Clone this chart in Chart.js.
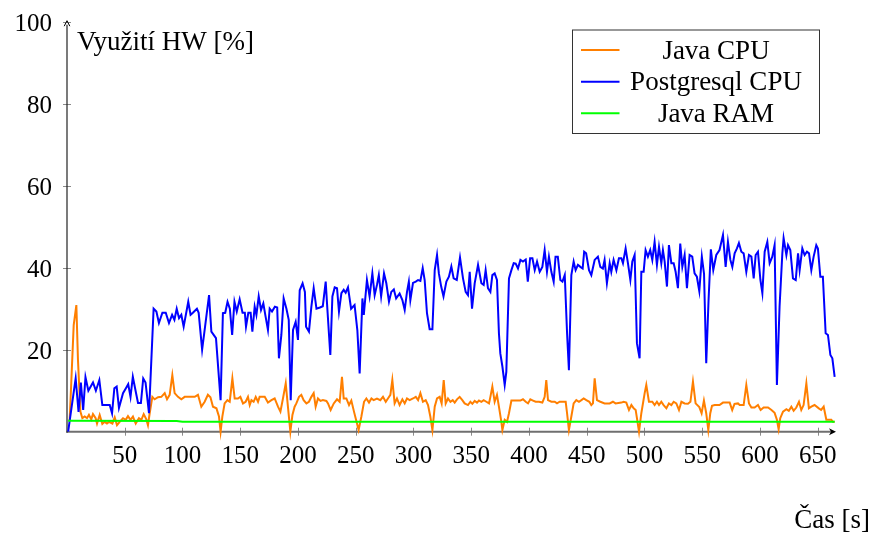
<!DOCTYPE html>
<html>
<head>
<meta charset="utf-8">
<script src="https://cdn.jsdelivr.net/npm/chart.js@4/dist/chart.umd.min.js"></script>
<style>
html,body{margin:0;padding:0;background:#fff;}
canvas{display:block;}
</style>
</head>
<body>
<canvas id="c" width="875" height="538"></canvas>
<script>
// ---- data ----
const seriesLabels = ["Java CPU", "Postgresql CPU", "Java RAM"];
const xTickValues = [50,100,150,200,250,300,350,400,450,500,550,600,650];
const yTickValues = [20,40,60,80,100];
const xAxisTitle = "Čas [s]";
const yAxisTitle = "Využití HW [%]";

const javaCpuTime = [2.3,5.8,8.1,9.5,11.6,13.3,15.3,17.3,19,21,22.5,24.8,26,28.3,30.6,32.6,34.6,36.4,39.3,41.3,43.3,45.6,48.5,50.8,52.8,55,57.1,59.5,62.3,64.4,66.4,68.7,70.1,71.6,73.9,75.9,78.8,81.7,84.6,86.6,88.9,91.2,93.2,96.1,99,101.9,106.2,110.6,113.4,116.3,119.2,122,124.2,126.4,129.4,131.6,133,134.5,136.5,138.9,140.9,143.2,145.2,148,150.1,152.4,154.7,156.7,158.2,159.7,161.6,163.4,165.4,166.8,171.2,174,177,179.8,182.7,184.8,187,189.4,191.3,193.4,195.2,197.1,198.6,200.9,202.9,204.9,207.3,209.5,211.6,213.6,215.3,217.3,219.5,221.6,224.6,226,228.3,231,233.8,236.1,238.1,239.6,241.9,244.2,246.2,248.5,250.5,252.5,254.9,257.2,259.2,261.5,263.6,265.5,268.4,271.3,273.6,276,277.9,280,281.7,283.7,285.7,288,290.4,292.4,294.4,296.7,299.6,302,304,306,308.2,310.6,312.6,314.6,316.4,318.4,320.4,322.7,324.4,326.2,327.9,329.9,332,334,335.7,337.7,340,342.3,344.3,347.2,349.3,351,353,355,356.7,358.8,360.8,363.1,365.4,366.6,368.3,370.3,372.3,374,376.1,377,379,381,382.7,384.8,388.5,392.6,394.8,397.2,399.2,401.2,403.5,405.8,408.7,411.6,413.6,415,416.5,419.4,422.3,424.3,426.6,429.5,431.8,433,434.6,436.7,438.7,441,443.3,445.4,447.4,449.7,452.3,454,455.4,456.9,458.9,461.8,465.5,469.9,472.7,475,480,482,484.3,486.6,488.7,490.7,492.4,493.5,495.3,497.3,500.2,501.6,503.9,506.8,508.8,510.8,512.6,514.6,516.6,519,521.2,523.3,525.3,527.6,529.9,532,534.8,537.7,539.8,542,544.3,547.5,549.5,551.5,553.5,555.3,557,558.5,560.8,565,568,573.8,576,578,581,582.4,585.9,588.2,590.5,592.6,595.4,598.3,600.6,603.2,607,610,612.7,614.7,616.2,617.6,620,622.9,625,627.2,629.2,631.5,633.8,635.8,637.8,640.2,642.4,644.5,647.3,651,653,655.2,657.5,659.8,661.8,663.2,664.7];
const javaCpuValue = [2.8,26,30.9,17.5,4.9,3.3,3.7,3.3,4.1,3,4.3,3.3,2,4.1,1.9,2.4,2,2.4,2,3.5,1.6,2.4,3.3,2.9,3.8,2.9,3.7,2,3.3,2.9,4.3,3,1.6,4.5,8.5,7.9,8.4,8.5,9.4,7.9,9,13.8,9.4,8.5,7.9,8.5,8.5,8.5,9,6.1,7.3,9,8.4,6.1,5.7,3.7,0,3.7,6.9,7.7,7.3,13,8.1,8.1,8.5,6.9,7.3,8.5,6.5,7.7,7.3,8.5,7.3,8.5,8.5,7.1,7.7,8.1,6.1,4.9,8.1,11.8,6.1,0,4.1,6.1,6.9,8.5,9,7.7,6.9,7.3,8.5,9.4,6.1,8.1,7.5,7.7,7.5,6.9,5.3,6.9,7.9,7.3,13.4,8.1,8.1,6.5,7.6,4.9,2.7,0.4,3.7,7.3,8.1,7.1,8.1,7.7,8.1,7.7,8.5,7.3,8.1,9,12.6,6.9,8.1,6.5,7.9,6.9,8.1,7.7,8.1,8.5,7.7,9.4,7.3,7.7,6.5,3.7,0.4,6.1,8.1,8.5,6.9,12.6,6.9,8.1,7.3,7.7,7.1,7.9,8.5,7.7,6.9,6.5,7.3,6.8,7.5,7.1,7.6,7.3,7.7,7.3,6.9,8.5,11,7.3,9,6.1,2.4,0.4,2.9,2.4,4.5,7.6,7.6,7.6,7.9,7.3,6.9,7.9,7.6,7.3,7.3,7.1,8.5,12.6,7.7,7.3,7.3,6.9,7.3,7.3,7.3,4.5,0.4,3.7,6.9,7.7,7.3,7.7,8.1,7.7,7.3,6.5,6.9,13,7.7,7.3,6.9,6.9,7.3,6.9,7.1,7.3,7.1,5.3,6.5,5.7,5.3,3.3,0,4.5,9.4,11.4,7.3,7.3,6.5,7.3,6.5,7.3,6.5,5.7,6.9,6.5,7.3,6.9,5.3,7.3,6.9,6.8,7.3,12.2,6.9,6,4.5,7.6,4.5,0.4,4.5,6.3,6.5,6.5,7.1,7.1,5.3,6.8,6.9,6.5,6.5,11.4,6.9,5.9,5.9,6.5,5.3,5.9,5.9,5.3,4.6,2.9,0.6,3.3,4.9,5.5,5.1,6.1,5.1,5.9,7.3,5.3,6.5,11.8,5.7,6.1,6.5,5.7,5.3,6.1,2.9,2.9,2.9,2.4,2.4];

const pgCpuTime = [1,7.5,10,12,14,16,18.5,22.5,25,28,30.6,34,37,39,41,43,45,48.5,51,53,55,57,59.5,61.5,64,66,68,71,75,77.4,79.6,82.6,85.5,88.3,91,93,95,97,99,101,105,107,109,112.5,114,117,119,123,125,127,129,133,135,137,139,141,143,145,147,149.5,152,154,155,157,159,160.5,162.5,164,166,168,170,172,174,175.5,177.5,180,182,183.5,185.6,187.6,190,192,193.7,195.7,198,200,201.5,204,206,207,209.5,211.6,213.6,216,219,221.5,224,225.5,228,229.8,231.8,233.8,235.5,237.6,239.6,241.3,243.3,246,249,251.4,253.4,255.8,257,259.7,262,264.4,266.4,268.4,270,272,274.5,276.5,278.8,280.8,283,285,288,290.4,292.4,294.4,296,297.3,299.6,302,304,306,308,309.7,311.7,314,316.4,318.4,320.4,322,324,326,328.5,330.7,332.8,334.8,337.5,340.3,342.9,345.2,347.2,348.7,350.7,353,355.9,358.8,360.8,362.5,364.5,366.6,368.3,370.3,372.3,374,375.2,377,379,380.4,382.7,384.8,386.8,388.5,390.5,392.6,394.8,397.2,399,401,403,405,407,409.3,411.6,413.6,415.6,417.3,419.4,421.4,423,425,427.2,429,431,433,434.6,436.7,438.7,440.4,442.4,444.5,446.5,447.8,449.5,452,454,456.9,459.7,461.8,464,465.5,467.5,469.9,471.3,473.3,475.7,477.9,480,481.4,483.7,485.7,487.8,489.5,491.5,493.5,495.8,497.3,499.3,501,503,505,506.8,508.8,510.8,512.6,514.6,516,517.5,519.5,521.2,523.3,525.3,527,529,531,532.8,534.8,536.8,539.1,541.4,543.4,545.4,547.5,549.7,551.6,553.5,555.5,557.5,559.6,562.2,565,568,570.3,572.3,574.4,576.1,578.1,580.1,581.8,583.9,585.9,588.2,590.5,592.6,594.6,596.3,598.3,600.4,602.1,604.1,606.4,608.4,610.7,612.7,614.7,617,619.4,620.5,622.9,624.3,626.3,628.6,631,633,634.4,636.7,638.7,640.7,642.5,644.5,646.5,648.8,650.2,652.3,654.5,656.9,658.9,661,662.7,664.7];
const pgCpuValue = [0,13,4.8,12,5.3,13.3,10,12,10,12.6,6.5,6.5,6.5,4.5,10.6,11,5.8,9.4,10.6,11.6,8.5,13.4,9.8,7,7,13,12,4.5,30,29.3,26.5,29,29,26.5,28.5,27.3,30,27.7,28.5,25.6,31.7,28.5,29,30,29,20,24.4,33.3,24.4,23.6,22.8,7.7,28.9,29,31.7,30,23.6,31.7,29.3,32.3,29,29,25.6,29,29,24.4,30.5,28.5,33,29.7,31.3,28,24.8,30,29.3,30.5,30.3,17.9,23.6,32.5,30,27.3,7.7,24.8,26.8,22.4,34.5,36.2,34.1,25.6,24.4,30.5,35,30,30.3,30.6,36.6,29.7,18.7,33,35.2,35,29.3,33.8,34.6,33.9,35.2,30,30.9,24.8,14.2,32.5,28.5,37,33,38.6,33.3,35.8,38.2,33,38.6,36.2,31.7,34.1,34.7,32.5,33.7,32.1,29.7,34.1,36.6,32.1,36.3,36.6,37,36.8,39.9,37,28.9,25,25,39.4,43.1,38.6,35.4,33,36.6,37.8,40.3,37.4,37,42.5,37.4,34.1,33.3,39,30,36.2,40.7,36.2,35.8,39.4,35,34.1,38.2,38.6,37,24,19.1,15.9,11.4,14.6,37.4,39.4,41.1,41,39.8,41.9,41.5,42,36.6,42.3,42.3,39.4,41.5,39,40.2,44.3,39,42.7,39,36.6,42.7,42.7,37,36.6,38.2,24,15,38.2,41.5,39.4,40.7,40.2,39.8,43.9,43.5,39.4,38.2,41.9,42.7,40.2,39.8,41.9,36.2,41.1,39,41.9,39.4,42.3,42.3,41.1,44.7,41.1,37,41.5,43.1,21.6,17.9,39,39,44.3,42.7,44.3,41.9,46.3,40.7,45.1,41.1,44.3,41.5,35.4,45.5,41.1,41.1,39,35,45.9,40.2,43.1,35,43.1,42.7,38.6,37.8,34.3,42.7,38.5,16.7,32,44.5,39.4,43.1,44.3,48,40.2,46.3,41.9,40.2,43.5,44.7,46,43.9,43.5,39,43.1,42.7,37.4,43.1,43.9,37,33.8,43.9,46.3,41.1,42.7,45.5,11.4,30.5,43.5,47.2,43.1,45.5,44.3,37.4,37,43.5,39.4,44.7,43.1,43.9,43.5,39.4,42.7,45.5,44.7,37.8,37.8,24,23.6,18.7,17.9,13.4];

const javaRamTime = [1,95,100,664.7];
const javaRamValue = [2.7,2.6,2.4,2.4];

const seriesColors = ["#ff7f00", "#0000ff", "#00ff00"];

function pts(t, v){ return t.map((x,i)=>({x:x, y:v[i]})); }

const SERIF = '"Liberation Serif", "DejaVu Serif", serif';

const decor = {
  id: 'decor',
  beforeDatasetsDraw(chart){
    const ctx = chart.ctx, xs = chart.scales.x, ys = chart.scales.y;
    const x0 = xs.getPixelForValue(0), y0 = ys.getPixelForValue(0);
    const yTop = ys.getPixelForValue(100), xEnd = xs.getPixelForValue(665);
    ctx.save();
    ctx.strokeStyle = '#8a8a8a'; ctx.lineWidth = 1;
    xTickValues.forEach(v=>{
      const px = Math.round(xs.getPixelForValue(v)) + 0.5;
      ctx.beginPath(); ctx.moveTo(px, y0-4); ctx.lineTo(px, y0+4); ctx.stroke();
    });
    yTickValues.forEach(v=>{
      const py = Math.round(ys.getPixelForValue(v)) + 0.5;
      ctx.beginPath(); ctx.moveTo(x0-4, py); ctx.lineTo(x0+4, py); ctx.stroke();
    });
    ctx.strokeStyle = '#6f6f6f'; ctx.lineWidth = 2;
    ctx.beginPath(); ctx.moveTo(x0-0.5, y0); ctx.lineTo(xEnd-4, y0); ctx.stroke();
    ctx.strokeStyle = '#222'; ctx.lineWidth = 1.2;
    ctx.beginPath(); ctx.moveTo(x0, y0+1); ctx.lineTo(x0, yTop+3); ctx.stroke();
    ctx.fillStyle = '#000';
    ctx.beginPath(); ctx.moveTo(xEnd+1, y0); ctx.lineTo(xEnd-6, y0-3.5); ctx.lineTo(xEnd-4, y0); ctx.lineTo(xEnd-6, y0+3.5); ctx.closePath(); ctx.fill();
    ctx.strokeStyle = '#000'; ctx.lineWidth = 1;
    ctx.beginPath(); ctx.moveTo(x0-2.8, yTop+4.5); ctx.lineTo(x0, yTop-1); ctx.lineTo(x0+2.8, yTop+4.5); ctx.stroke();
    ctx.restore();
  },
  afterDraw(chart){
    const ctx = chart.ctx, xs = chart.scales.x, ys = chart.scales.y;
    const x0 = xs.getPixelForValue(0), y0 = ys.getPixelForValue(0);
    ctx.save();
    ctx.fillStyle = '#000';
    ctx.font = '25px ' + SERIF;
    ctx.textBaseline = 'alphabetic';
    ctx.textAlign = 'center';
    xTickValues.forEach(v=>{ ctx.fillText(String(v), xs.getPixelForValue(v), y0 + 31.5); });
    ctx.textAlign = 'right';
    yTickValues.forEach(v=>{ ctx.fillText(String(v), x0 - 15, ys.getPixelForValue(v) + 9.5); });
    ctx.font = '27px ' + SERIF;
    ctx.textAlign = 'left';
    ctx.fillText(yAxisTitle, x0 + 10, 50);
    ctx.textAlign = 'right';
    ctx.fillText(xAxisTitle, 870, 528);
    const bx = 572.5, by = 30, bw = 247, bh = 103.5;
    ctx.fillStyle = '#fff'; ctx.fillRect(bx, by, bw, bh);
    ctx.strokeStyle = '#333'; ctx.lineWidth = 1;
    ctx.strokeRect(bx, by, bw, bh);
    const rows = [50, 81.7, 113.3];
    chart.data.datasets.forEach((ds, i)=>{
      ctx.strokeStyle = ds.borderColor; ctx.lineWidth = 2;
      ctx.beginPath(); ctx.moveTo(581, rows[i]); ctx.lineTo(619.5, rows[i]); ctx.stroke();
      ctx.fillStyle = '#000'; ctx.textAlign = 'center';
      ctx.font = '27px ' + SERIF;
      ctx.fillText(ds.label, 716, rows[i] + 8.5);
    });
    ctx.restore();
  }
};

new Chart(document.getElementById('c'), {
  type: 'line',
  data: {
    datasets: [
      { label: seriesLabels[0], data: pts(javaCpuTime, javaCpuValue), borderColor: seriesColors[0], order: 3 },
      { label: seriesLabels[1], data: pts(pgCpuTime, pgCpuValue), borderColor: seriesColors[1], order: 2 },
      { label: seriesLabels[2], data: pts(javaRamTime, javaRamValue), borderColor: seriesColors[2], order: 1 }
    ]
  },
  options: {
    responsive: false,
    animation: false,
    devicePixelRatio: 1,
    layout: { padding: { left: 67, right: 40, top: 21.7, bottom: 106.3 } },
    scales: {
      x: { type: 'linear', min: 0, max: 665, display: false },
      y: { type: 'linear', min: 0, max: 100, display: false }
    },
    elements: {
      point: { radius: 0, hoverRadius: 0 },
      line: { tension: 0, borderWidth: 2, fill: false }
    },
    datasets: { line: { clip: false } },
    plugins: { legend: { display: false }, tooltip: { enabled: false } }
  },
  plugins: [decor]
});
</script>
</body>
</html>
